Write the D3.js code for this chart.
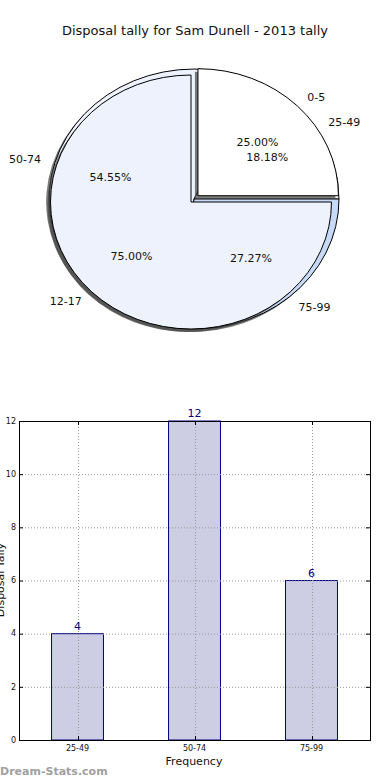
<!DOCTYPE html>
<html>
  <head>
    <script src="https://cdnjs.cloudflare.com/ajax/libs/d3/7.8.5/d3.min.js"></script>
    <style>
      body { margin: 0; background: #fff; }
      text { font-family: "DejaVu Sans", sans-serif; }
    </style>
  </head>
  <body>
    <div id="vis"></div>
    <script type="text/javascript">

        // pie under: the three score bands
        const bandLabels = ["25-49", "50-74", "75-99"];
        const bandCounts = [4, 12, 6];
        const bandColors = ["#ffffff", "#edf2fd", "#c6d9f7"];

        // pie on top: the two age groups
        const ageLabels = ["0-5", "12-17"];
        const ageShares = [25, 75];
        const ageColors = ["#ffffff", "#edf2fd"];
        const ageExplode = [0.07, 0];

        // bar chart
        const barCats = ["25-49", "50-74", "75-99"];
        const barValues = [4, 12, 6];
        const yTickValues = [0, 2, 4, 6, 8, 10, 12];

        const svg = d3.select("#vis")
            .append("svg")
            .attr("width", 390)
            .attr("height", 780);

        svg.append("text")
            .attr("x", 195)
            .attr("y", 35)
            .attr("text-anchor", "middle")
            .attr("font-size", 13)
            .attr("fill", "#111")
            .text("Disposal tally for Sam Dunell - 2013 tally");

        // matplotlib style pie: starts at 3 o'clock, runs counter-clockwise
        const pie = d3.pie().sort(null)
            .startAngle(Math.PI / 2)
            .endAngle(Math.PI / 2 - 2 * Math.PI);
        const arc = d3.arc().innerRadius(0).outerRadius(1);

        function fmtPct(v, total) {
            return (v / total * 100).toFixed(2) + "%";
        }

        const pctLayer = [];

        function drawPie(values, labels, colors, explode, cx, cy, rx, ry) {
            const total = d3.sum(values);
            const arcs = pie(values);
            const g = svg.append("g");

            // shadows first
            arcs.forEach((a, i) => {
                const mid = (a.startAngle + a.endAngle) / 2;
                const ex = (explode ? explode[i] : 0);
                const ox = cx + ex * rx * Math.sin(mid) - 3;
                const oy = cy - ex * ry * Math.cos(mid) + 3;
                g.append("path")
                    .attr("d", arc(a))
                    .attr("transform", `translate(${ox},${oy}) scale(${rx},${ry})`)
                    .attr("fill", "#444")
                    .attr("opacity", 0.7);
            });

            arcs.forEach((a, i) => {
                const mid = (a.startAngle + a.endAngle) / 2;
                const ex = (explode ? explode[i] : 0);
                const ox = cx + ex * rx * Math.sin(mid);
                const oy = cy - ex * ry * Math.cos(mid);
                g.append("path")
                    .attr("d", arc(a))
                    .attr("transform", `translate(${ox},${oy}) scale(${rx},${ry})`)
                    .attr("fill", colors[i])
                    .attr("stroke", "#000")
                    .attr("stroke-width", 1)
                    .attr("vector-effect", "non-scaling-stroke");

                const sx = Math.sin(mid), sy = -Math.cos(mid);
                g.append("text")
                    .attr("x", ox + 1.1 * rx * sx)
                    .attr("y", oy + 1.1 * ry * sy)
                    .attr("dy", "0.35em")
                    .attr("text-anchor", sx > 0 ? "start" : "end")
                    .attr("font-size", 11)
                    .attr("fill", "#111")
                    .text(labels[i]);

                pctLayer.push({
                    x: ox + 0.6 * rx * sx,
                    y: oy + 0.6 * ry * sy,
                    t: fmtPct(values[i], total)
                });
            });
        }

        drawPie(bandCounts, bandLabels, bandColors, null, 194, 199, 145, 130);
        drawPie(ageShares, ageLabels, ageColors, ageExplode, 191, 202, 140.5, 127);

        // percentages of both pies stay readable on top
        svg.append("g")
            .selectAll("text")
            .data(pctLayer)
            .enter()
            .append("text")
            .attr("x", d => d.x)
            .attr("y", d => d.y)
            .attr("dy", "0.35em")
            .attr("text-anchor", "middle")
            .attr("font-size", 11)
            .attr("fill", "#111")
            .text(d => d.t);

        // ---- bar chart ----
        const plotL = 19, plotR = 370, plotT = 421, plotB = 740;

        const x = d3.scaleBand()
            .domain(barCats)
            .range([plotL, plotR])
            .paddingInner(0.556)
            .paddingOuter(0.278);

        const y = d3.scaleLinear()
            .domain([0, 12])
            .range([plotB, plotT]);

        svg.append("g")
            .selectAll("rect")
            .data(barValues)
            .enter()
            .append("rect")
            .attr("x", (d, i) => x(barCats[i]))
            .attr("y", d => y(d))
            .attr("width", x.bandwidth())
            .attr("height", d => plotB - y(d))
            .attr("fill", "#cdcde4")
            .attr("stroke", "#00008b")
            .attr("stroke-width", 1);

        // dotted grid over the bars
        const grid = svg.append("g")
            .attr("stroke", "#999")
            .attr("stroke-dasharray", "1,2")
            .attr("stroke-width", 1);
        yTickValues.forEach(v => {
            grid.append("line")
                .attr("x1", plotL).attr("x2", plotR)
                .attr("y1", y(v) + 0.5).attr("y2", y(v) + 0.5);
        });
        barCats.forEach(c => {
            const cx = Math.round(x(c) + x.bandwidth() / 2) + 0.5;
            grid.append("line")
                .attr("x1", cx).attr("x2", cx)
                .attr("y1", plotT).attr("y2", plotB);
        });

        // frame
        svg.append("rect")
            .attr("x", plotL + 0.5).attr("y", plotT + 0.5)
            .attr("width", plotR - plotL).attr("height", plotB - plotT)
            .attr("fill", "none")
            .attr("stroke", "#000");

        // tick marks inside, both sides
        const ticks = svg.append("g").attr("stroke", "#000");
        yTickValues.forEach(v => {
            const yy = y(v) + 0.5;
            ticks.append("line").attr("x1", plotL).attr("x2", plotL + 4).attr("y1", yy).attr("y2", yy);
            ticks.append("line").attr("x1", plotR - 4).attr("x2", plotR).attr("y1", yy).attr("y2", yy);
        });
        barCats.forEach(c => {
            const cx = Math.round(x(c) + x.bandwidth() / 2) + 0.5;
            ticks.append("line").attr("x1", cx).attr("x2", cx).attr("y1", plotB - 4).attr("y2", plotB);
            ticks.append("line").attr("x1", cx).attr("x2", cx).attr("y1", plotT).attr("y2", plotT + 4);
        });

        svg.append("g")
            .selectAll("text")
            .data(yTickValues)
            .enter()
            .append("text")
            .attr("x", plotL - 3)
            .attr("y", d => y(d))
            .attr("dy", "0.35em")
            .attr("text-anchor", "end")
            .attr("font-size", 8)
            .attr("fill", "#111")
            .text(d => d);

        svg.append("g")
            .selectAll("text")
            .data(barCats)
            .enter()
            .append("text")
            .attr("x", d => x(d) + x.bandwidth() / 2)
            .attr("y", plotB + 11)
            .attr("text-anchor", "middle")
            .attr("font-size", 8)
            .attr("fill", "#111")
            .text(d => d);

        // value labels
        svg.append("g")
            .selectAll("text")
            .data(barValues)
            .enter()
            .append("text")
            .attr("x", (d, i) => x(barCats[i]) + x.bandwidth() / 2)
            .attr("y", d => y(d) - 4)
            .attr("text-anchor", "middle")
            .attr("font-size", 11)
            .attr("fill", "#00008b")
            .text(d => d);

        svg.append("text")
            .attr("x", 194)
            .attr("y", 765)
            .attr("text-anchor", "middle")
            .attr("font-size", 11)
            .attr("fill", "#111")
            .text("Frequency");

        svg.append("text")
            .attr("transform", "translate(4,580) rotate(-90)")
            .attr("text-anchor", "middle")
            .attr("font-size", 11)
            .attr("fill", "#111")
            .text("Disposal Tally");

        svg.append("text")
            .attr("x", 0)
            .attr("y", 775)
            .attr("font-size", 11)
            .attr("font-weight", "bold")
            .attr("fill", "#a0a0a0")
            .text("Dream-Stats.com");

    </script>
  </body>
</html>
